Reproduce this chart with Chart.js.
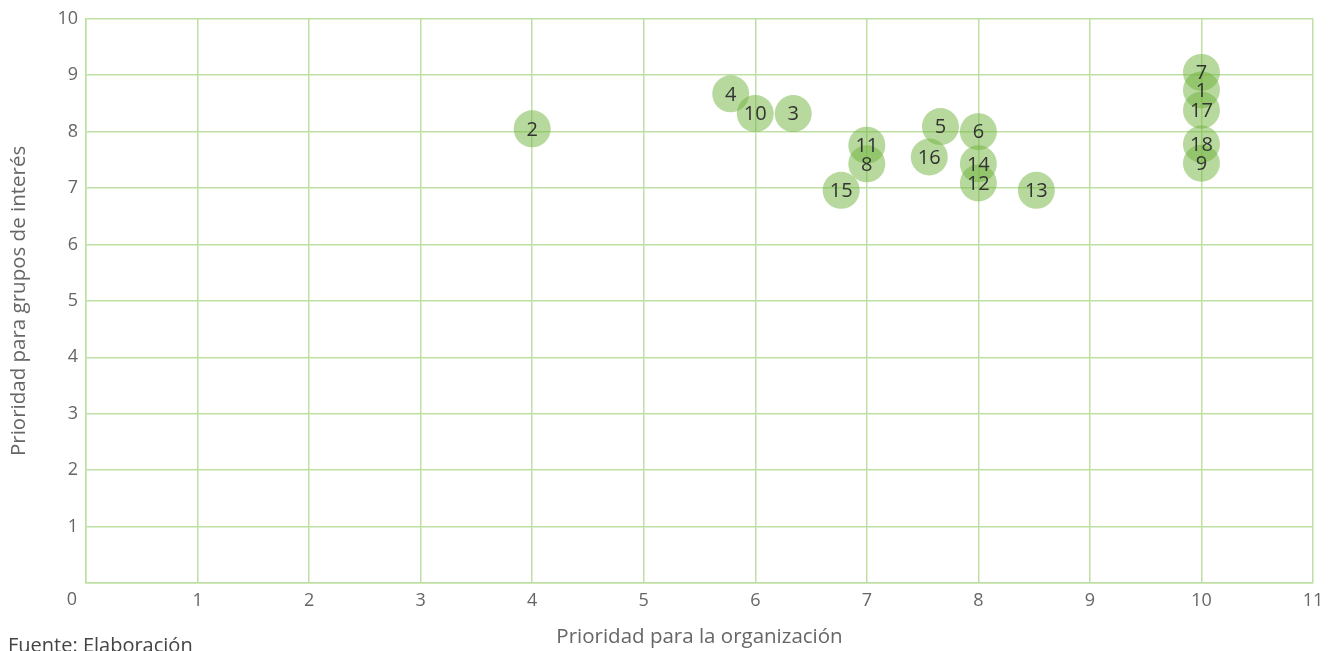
<!DOCTYPE html>
<html>
<head>
<meta charset="utf-8">
<script src="https://cdn.jsdelivr.net/npm/chart.js@4.4.0/dist/chart.umd.min.js"></script>
<style>
  html, body { margin: 0; padding: 0; background: #fff; overflow: hidden; }
  #wrap { position: relative; width: 1333px; height: 651px; }
  #source { position: absolute; left: 8px; top: 631px; font: 20px "Open Sans", sans-serif; color: #444; white-space: nowrap; }
</style>
</head>
<body>
<div id="wrap">
  <canvas id="matrix" width="1333" height="651"></canvas>
  <div id="source">Fuente: Elaboración</div>
</div>
<script>
// temas materiales: numero, prioridad organizacion (x), prioridad grupos de interes (y)
const temas = ['1', '2', '3', '4', '5', '6', '7', '8', '9', '10', '11', '12', '13', '14', '15', '16', '17', '18'];
const prioridadOrg = [10, 4, 6.34, 5.78, 7.66, 8, 10, 7, 10, 6, 7, 8, 8.52, 8, 6.77, 7.56, 10, 10];
const prioridadGrupos = [8.74, 8.05, 8.32, 8.67, 8.09, 8, 9.05, 7.43, 7.44, 8.32, 7.76, 7.09, 6.96, 7.43, 6.96, 7.55, 8.38, 7.78];

const gridGreen = '#bfe0a3';
const tickGray = '#666';

const points = temas.map((t, i) => ({ x: prioridadOrg[i], y: prioridadGrupos[i] }));

// numero dentro de cada circulo
const bubbleLabels = {
    id: 'bubbleLabels',
    afterDatasetsDraw(chart) {
        const ctx = chart.ctx;
        const meta = chart.getDatasetMeta(0);
        ctx.save();
        ctx.font = '20px "Open Sans", sans-serif';
        ctx.fillStyle = '#333';
        ctx.textAlign = 'center';
        ctx.textBaseline = 'middle';
        meta.data.forEach((pt, i) => {
            ctx.fillText(temas[i], pt.x, pt.y + 1);
        });
        ctx.restore();
    }
};

// el "0" del origen va abajo a la izquierda
const originLabel = {
    id: 'originLabel',
    afterDraw(chart) {
        const ctx = chart.ctx;
        const xs = chart.scales.x;
        ctx.save();
        ctx.font = '18px "Open Sans", sans-serif';
        ctx.fillStyle = tickGray;
        ctx.textAlign = 'center';
        ctx.textBaseline = 'middle';
        ctx.fillText('0', xs.left - 14, xs.top + 17);
        ctx.restore();
    }
};

const ctx = document.getElementById('matrix').getContext('2d');
new Chart(ctx, {
    type: 'scatter',
    data: {
        datasets: [{
            data: points,
            backgroundColor: 'rgba(112, 180, 60, 0.5)',
            borderWidth: 0,
            pointRadius: 18.5,
            pointHoverRadius: 18.5
        }]
    },
    options: {
        responsive: false,
        animation: false,
        layout: { padding: { left: 0, right: 20, top: 18, bottom: 0 } },
        plugins: {
            legend: { display: false },
            tooltip: { enabled: false }
        },
        scales: {
            x: {
                min: 0, max: 11,
                afterFit: s => { s.height = 68; },
                ticks: {
                    stepSize: 1,
                    color: tickGray,
                    font: { family: 'Open Sans', size: 18 },
                    padding: 7,
                    callback: v => v === 0 ? '' : v
                },
                grid: { color: gridGreen, lineWidth: 1.5, drawTicks: false },
                border: { color: gridGreen, width: 1.5 },
                title: {
                    display: true,
                    text: 'Prioridad para la organización',
                    color: tickGray,
                    font: { family: 'Open Sans', size: 20.5 },
                    padding: { top: 0, bottom: 2 }
                }
            },
            y: {
                min: 0, max: 10,
                afterFit: s => { s.width = 86; },
                ticks: {
                    stepSize: 1,
                    color: tickGray,
                    font: { family: 'Open Sans', size: 18 },
                    padding: 8,
                    callback: v => v === 0 ? '' : v
                },
                grid: { color: gridGreen, lineWidth: 1.5, drawTicks: false },
                border: { color: gridGreen, width: 1.5 },
                title: {
                    display: true,
                    text: 'Prioridad para grupos de interés',
                    color: tickGray,
                    font: { family: 'Open Sans', size: 20.5 },
                    padding: { top: 7, bottom: 0 }
                }
            }
        }
    },
    plugins: [bubbleLabels, originLabel]
});
</script>
</body>
</html>
